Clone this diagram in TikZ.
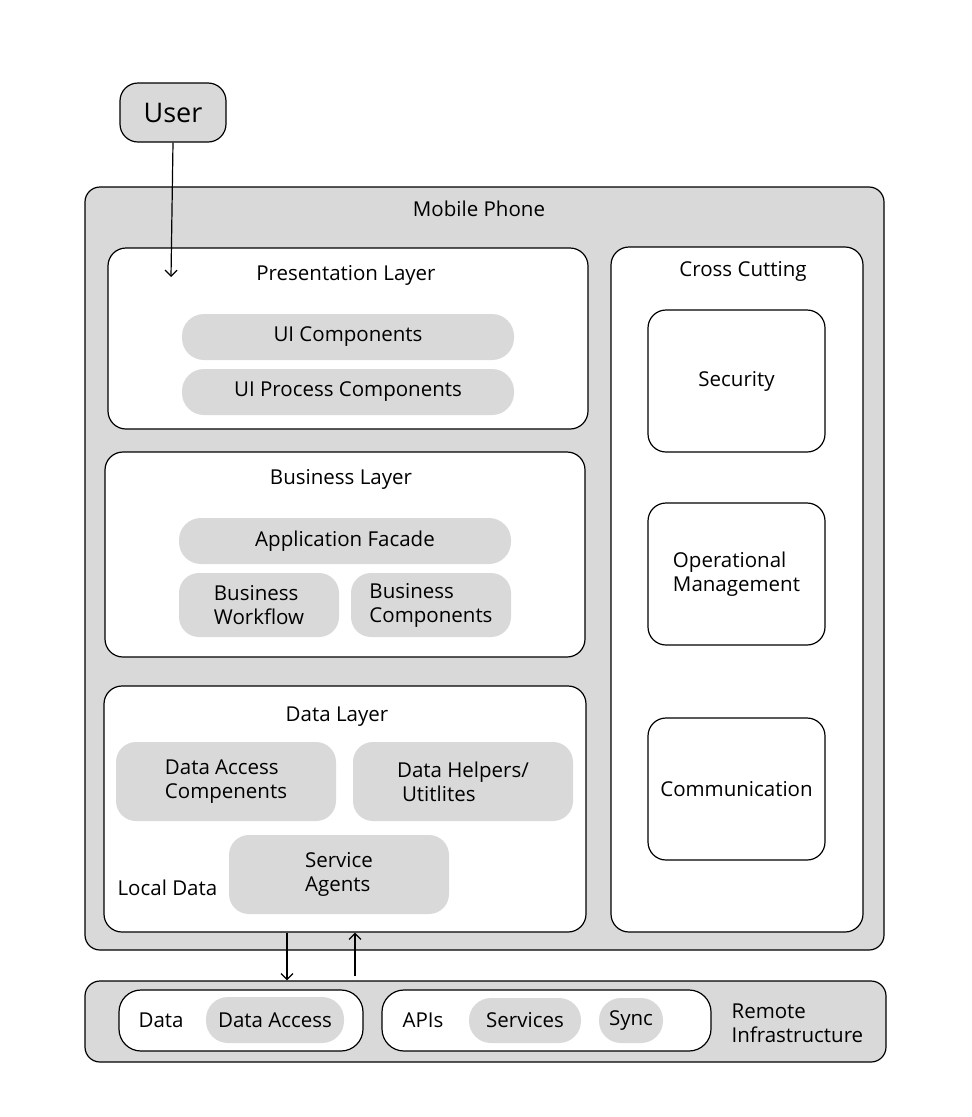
\documentclass[tikz,border=0pt]{standalone}
\usepackage{fontspec}
\setmainfont{Open Sans}
\usetikzlibrary{arrows.meta}
\definecolor{boxgray}{HTML}{D9D9D9}
\begin{document}
\begin{tikzpicture}[x=1pt, y=-1pt, line width=1.2pt, >={Straight Barb[length=6pt,width=12pt]},
  every node/.style={font=\fontsize{20.5}{24}\selectfont, inner sep=0pt},
  frame/.style={rectangle,draw,fill=boxgray,rounded corners=15pt},
  layer/.style={rectangle,draw,fill=white,rounded corners=18pt},
  pill/.style={rectangle,fill=boxgray,rounded corners=22pt},
  block/.style={rectangle,fill=boxgray,rounded corners=20pt,align=left}]
\useasboundingbox (0,0) rectangle (972,1117);
\node[frame, rounded corners=18pt, minimum width=106, minimum height=59, font=\fontsize{27}{30}\selectfont] (user) at (173,112.5) {User};
% mobile phone
\node[frame, minimum width=799, minimum height=763] (phone) at (484.5,568.5) {};
\node (phonetitle) at (479,209) {Mobile Phone};
\node[layer, minimum width=480, minimum height=181] (pres) at (348,338.5) {};
\node (prestitle) at (346,275) {Presentation Layer};
\node[pill, minimum width=332, minimum height=46] (uicomp) at (348,337) {UI Components};
\node[pill, minimum width=332, minimum height=46] (uiproc) at (348,392) {UI Process Components};
\node[layer, minimum width=480, minimum height=205] (bus) at (345,554.5) {};
\node (bustitle) at (341,479) {Business Layer};
\node[pill, minimum width=332, minimum height=46] (facade) at (345,541) {Application Facade};
\node[block, minimum width=160, minimum height=64] (workflow) at (259,605) {Business\\Workflow};
\node[block, minimum width=160, minimum height=64] (buscomp) at (431,605) {Business\\Components};
\node[layer, minimum width=482, minimum height=246] (data) at (345,809) {};
\node (datatitle) at (337,717) {Data Layer};
\node[block, minimum width=220, minimum height=79] (dacc) at (226,781.5) {Data Access\\Compenents};
\node[block, minimum width=220, minimum height=79] (dhelp) at (463,781.5) {Data Helpers/\\\hspace{5pt}Utitlites};
\node[block, minimum width=220, minimum height=79] (agents) at (339,874.5) {Service\\Agents};
\node[anchor=west] (localdata) at (117,888) {Local Data};
\node[layer, minimum width=252, minimum height=685] (cross) at (737,589.5) {};
\node (crosstitle) at (743,271) {Cross Cutting};
\node[layer, minimum width=177, minimum height=142] (security) at (736.5,381) {Security};
\node[layer, minimum width=177, minimum height=142, align=left] (opman) at (736.5,574) {Operational\\Management};
\node[layer, minimum width=177, minimum height=142] (comm) at (736.5,789) {Communication};
% remote infrastructure
\node[frame, minimum width=801, minimum height=81] (remote) at (485.5,1021.5) {};
\node[layer, rounded corners=22pt, minimum width=244, minimum height=61] (rdata) at (241,1020.5) {};
\node[anchor=west] (rdatatext) at (138,1020) {Data};
\node[pill, minimum width=138, minimum height=46] (raccess) at (275,1020) {Data Access};
\node[layer, rounded corners=22pt, minimum width=329, minimum height=61] (apis) at (546.5,1020.5) {};
\node[anchor=west] (apistext) at (402,1020) {APIs};
\node[pill, minimum width=112, minimum height=45] (services) at (525,1020.5) {Services};
\node[pill, minimum width=64, minimum height=45, text height=15pt, text depth=5pt] (sync) at (631,1020.5) {Sync};
\node[anchor=west, align=left] (remotetext) at (731,1023) {Remote\\Infrastructure};
% connectors
\coordinate (entry) at (171,277);
\coordinate (down) at (287,0);
\coordinate (up) at (355,0);
\draw[->] (user.south) -- (entry);
\draw[->] (data.south -| down) -- (remote.north -| down);
\draw[->, shorten <=4pt] (remote.north -| up) -- (data.south -| up);
\end{tikzpicture}
\end{document}
